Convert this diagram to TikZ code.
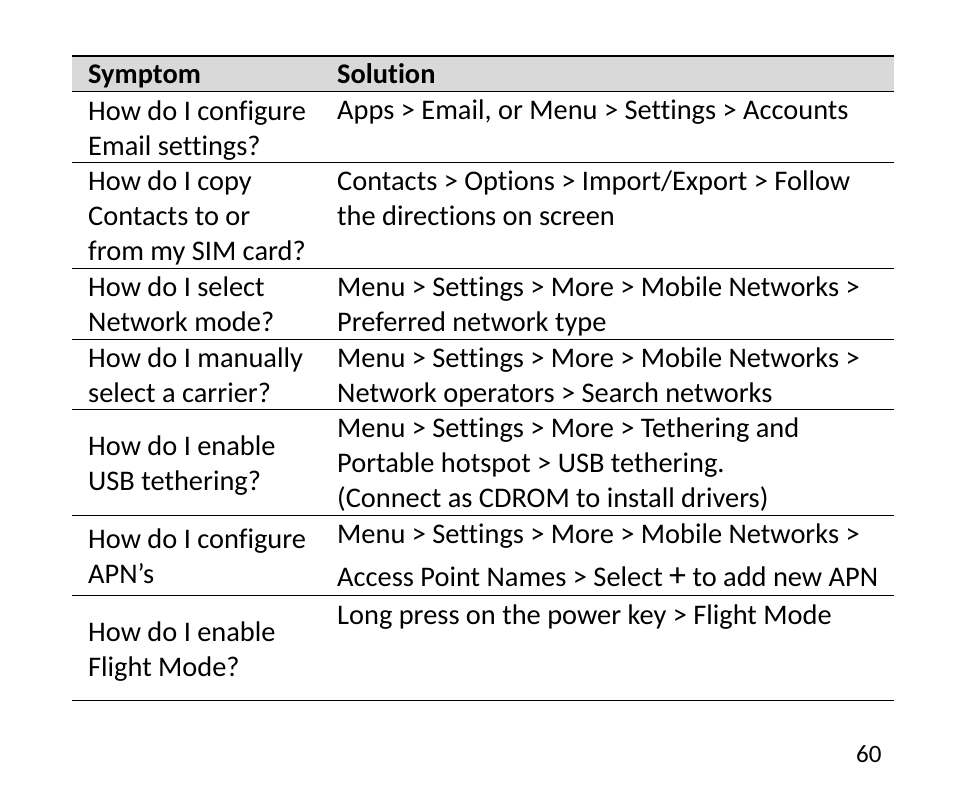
\documentclass[tikz,border=0pt]{standalone}
\usepackage{fontspec}
\setmainfont{Carlito}[Ligatures=CommonOff]
\definecolor{headgray}{HTML}{D9D9D9}
\begin{document}
\begin{tikzpicture}[x=1pt,y=-1pt,
  cell/.style={anchor=base west,inner sep=0pt,align=left,font=\fontsize{28.4}{34.7}\selectfont},
  rule/.style={line width=1pt}]
\useasboundingbox (0,0) rectangle (954,808);
\fill[headgray] (72,56) rectangle (894,92);
\draw[line width=1.5pt] (72,56) -- (894,56);
\foreach \y in {92,162,268,339,409,515,595,700}
  \draw[rule] (72,\y) -- (894,\y);
% header
\node[cell,font=\fontsize{28.4}{34.7}\selectfont\bfseries] (hsym) at (88,84) {Symptom};
\node[cell,font=\fontsize{28.4}{34.7}\selectfont\bfseries] (hsol) at (337,84) {Solution};
% rows (anchored at the last line)
\node[cell] (sym1) at (88,155) {How do I configure\\Email settings?};
\node[cell] (sol1) at (337,120) {Apps > Email, or Menu > Settings > Accounts};
\node[cell] (sym2) at (88,260) {How do I copy\\Contacts to or\\from my SIM card?};
\node[cell] (sol2) at (337,225) {Contacts > Options > Import/Export > Follow\\the directions on screen};
\node[cell] (sym3) at (88,331) {How do I select\\Network mode?};
\node[cell] (sol3) at (337,331) {Menu > Settings > More > Mobile Networks >\\Preferred network type};
\node[cell] (sym4) at (88,402) {How do I manually\\select a carrier?};
\node[cell] (sol4) at (337,402) {Menu > Settings > More > Mobile Networks >\\Network operators > Search networks};
\node[cell] (sym5) at (88,490) {How do I enable\\USB tethering?};
\node[cell] (sol5) at (337,507) {Menu > Settings > More > Tethering and\\Portable hotspot > USB tethering.\\(Connect as CDROM to install drivers)};
\node[cell] (sym6) at (88,583) {How do I configure\\APN’s};
\node[cell] (sol6a) at (337,543) {Menu > Settings > More > Mobile Networks >};
\node[cell] (sol6b) at (337,586) {Access Point Names > Select {\fontsize{34}{34}\selectfont +} to add new APN};
\node[cell] (sym7) at (88,676) {How do I enable\\Flight Mode?};
\node[cell] (sol7) at (337,624) {Long press on the power key > Flight Mode};
\node[cell,font=\fontsize{25}{28}\selectfont] (page) at (856,762) {60};
\end{tikzpicture}
\end{document}
